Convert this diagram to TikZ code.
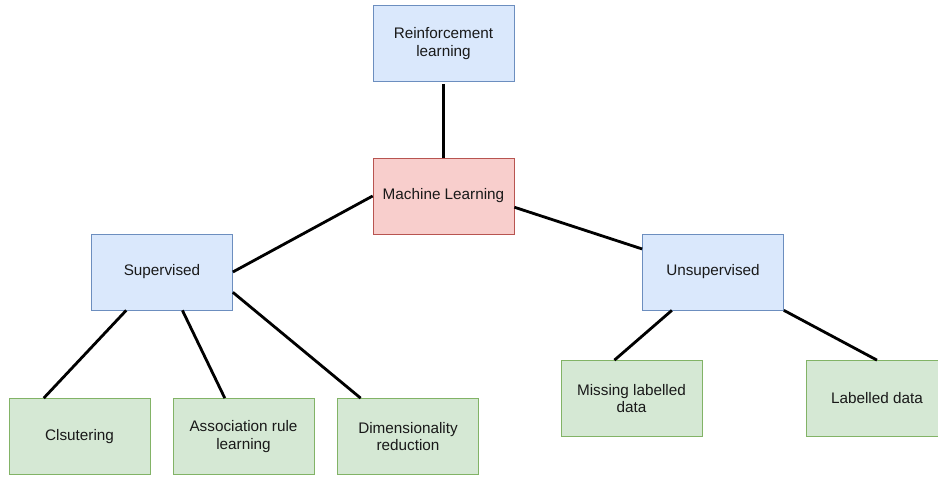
\documentclass[tikz,border=0pt]{standalone}
\usepackage{fontspec}
\setmainfont{Liberation Sans}
\usepackage{tikz}
\usetikzlibrary{positioning, calc}
\definecolor{bluefill}{HTML}{DAE8FC}
\definecolor{blueline}{HTML}{6C8EBF}
\definecolor{redfill}{HTML}{F8CECC}
\definecolor{redline}{HTML}{B85450}
\definecolor{greenfill}{HTML}{D5E8D4}
\definecolor{greenline}{HTML}{82B366}
\tikzstyle{box} = [rectangle, minimum width=2.82cm, minimum height=1.52cm, align=center, inner sep=1pt, text=black!90, font=\fontsize{8.7}{9.8}\selectfont]
\tikzstyle{topic} = [box, draw=blueline, fill=bluefill]
\tikzstyle{root} = [box, draw=redline, fill=redfill]
\tikzstyle{leaf} = [box, draw=greenline, fill=greenfill]
\tikzstyle{link} = [line width=1.6pt, black]

\begin{document}
\begin{tikzpicture}
    \useasboundingbox (0, 0) rectangle (18.76, 9.54);
    \node[topic] (RL) at (8.87, 8.67) {Reinforcement\\learning};
    \node[root] (ML) at (8.87, 5.62) {Machine Learning};
    \node[topic] (Sup) at (3.24, 4.10) {Supervised};
    \node[topic] (Unsup) at (14.26, 4.10) {Unsupervised};
    \node[leaf] (Clu) at (1.59, 0.81) {Clsutering};
    \node[leaf] (Assoc) at (4.87, 0.81) {Association rule\\learning};
    \node[leaf] (Dim) at (8.16, 0.81) {Dimensionality\\reduction};
    \node[leaf] (Miss) at (12.63, 1.57) {Missing labelled\\data};
    \node[leaf] (Lab) at (17.54, 1.57) {Labelled data};
    % links
    \draw[link] ($(RL.south)+(0,-0.04)$) -- (ML.north);
    \draw[link] (ML.west) -- (Sup.east);
    \draw[link] (ML.-9) -- (Unsup.162);
    \draw[link] (Sup.227) -- (Clu.133);
    \draw[link] (Sup.298) -- (Assoc.116);
    \draw[link] (Sup.344) -- (Dim.141);
    \draw[link] (Unsup.223) -- (Miss.114);
    \draw[link] (Unsup.south east) -- (Lab.north);
  \end{tikzpicture}
\end{document}
